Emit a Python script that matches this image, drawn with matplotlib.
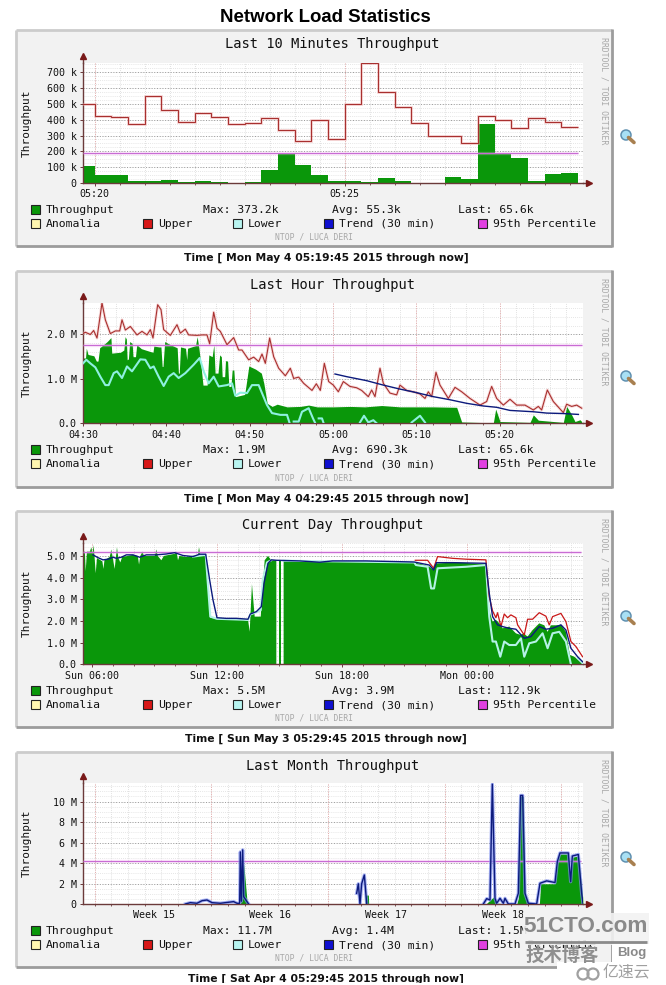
#!/usr/bin/env python
# plot.py - ntop "Network Load Statistics" page with four rrdtool graphs

import numpy as np
import matplotlib
matplotlib.use('Agg')
import matplotlib.pyplot as plt
from matplotlib.patches import Rectangle, Circle

nan = float('nan')

#------------------------------------------------------------------------------
# data: last 10 minutes (20 s steps, values in k)
#------------------------------------------------------------------------------
ten_upper = [500, 425, 420, 375, 550, 460, 385, 445, 420, 370, 380, 412, 335, 265, 395,
             280, 500, 760, 575, 480, 380, 300, 295, 255, 425, 395, 345, 410, 385, 355]
ten_green = [105, 50, 50, 15, 15, 20, 8, 12, 8, 2, 6, 85, 185, 115, 50,
             15, 12, 5, 30, 10, 3, 3, 35, 25, 373, 185, 155, 12, 55, 65]
ten_pct = 187

#------------------------------------------------------------------------------
# data: last hour (minutes after 04:30, values in M)
#------------------------------------------------------------------------------
hour_upper_t = [0, .28, .88, 1.28, 1.68, 2.28, 2.68, 3.28, 3.88, 4.4, 4.68, 5.08, 5.68, 6.48, 7.08,
                7.68, 8.08, 8.4, 8.96, 9.36, 9.68, 10.48, 11.28, 11.68, 12.28, 12.68, 13.68, 14.28,
                14.88, 15.2, 15.68, 16.08, 16.48, 17.28, 18.08, 18.68, 19.08, 19.88, 20.48, 21.08,
                21.48, 21.88, 22.4, 22.88, 23.48, 24.28, 24.88, 25.28, 25.88, 26.48, 27.48, 28,
                28.48, 28.96, 29.48, 30.04, 30.64, 31.24, 32.04, 32.84, 33.44, 34.24, 34.64, 35.04,
                35.64, 36.04, 36.84, 37.64, 38.04, 38.84, 39.64, 40.44, 41.04, 41.44, 41.84, 42.36,
                42.84, 43.84, 44.64, 45.44, 46.44, 47.64, 48.44, 49.04, 49.64, 50.44, 51.24, 52.04,
                53.04, 54.04, 54.64, 55.04, 55.72, 56.44, 57.64, 58.04, 58.64, 59.24, 59.84]
hour_upper_v = [2.02, 2.05, 2.0, 2.09, 1.92, 2.71, 2.33, 2.02, 2.08, 2.08, 2.33, 2.1, 2.18, 1.99, 2.07,
                1.99, 2.11, 1.92, 2.67, 2.56, 2.11, 1.98, 2.22, 2.03, 2.12, 1.99, 1.98, 1.99,
                1.99, 1.79, 2.5, 2.14, 2.07, 1.77, 1.93, 1.65, 1.65, 1.43, 1.49, 1.39,
                1.56, 1.35, 1.92, 1.5, 1.24, 1.07, 1.24, 1.01, 1.04, .9, .74, .89,
                .74, 1.35, .94, .86, .71, .94, .83, .8, .74, .6, .75, .6,
                1.24, .9, .68, .64, .86, .74, .71, .66, .56, .71, .6, 1.15,
                .86, .56, .81, .71, .56, .41, .49, .83, .56, .41, .54, .41,
                .41, .3, .38, .3, .75, .49, .24, .43, .38, .41, .34]
hour_green_t = [0, .3, .4, .6, 1.3, 1.6, 1.8, 2.0, 2.9, 3.35, 3.45, 4.5, 4.9, 5.05, 5.2, 5.3, 5.45, 5.6,
                5.9, 6.0, 6.3, 6.45, 7, 8, 8.4, 8.5, 9.1, 9.35, 9.5, 9.6, 9.8, 10.5, 11.3, 11.45,
                11.55, 11.7, 12.3, 12.45, 12.55, 13.5, 13.7, 13.9, 14.1, 14.4, 14.9, 15.1, 15.5,
                15.7, 15.85, 16.2, 16.4, 16.6, 16.7, 17, 17.1, 17.35, 17.5, 17.75, 17.9, 18.1, 18.3,
                19.4, 19.6, 19.9, 20.7, 21.4, 21.7, 22.1, 22.7, 23.3, 24.48, 26.08, 27.08,
                28.08, 30.04, 32.04, 33.84, 35.84, 38.04, 42.04, 44.84, 45.44, 49.24, 49.52, 50.04,
                53.64, 54.04, 54.64, 57.64, 58.04, 58.64, 59.04, 59.64, 59.84]
hour_green_v = [1.47, 1.47, 1.69, 1.55, 1.52, 1.4, 1.4, 1.7, 1.84, 1.93, 1.58, 1.6, 1.65, 1.95, 1.9, 1.43, 1.45, 1.84,
                1.8, 1.5, 1.5, 1.77, 1.68, 1.62, 1.6, 1.74, 1.72, 1.72, 1.28, 1.28, 1.84, 1.77, 1.7, 1.13,
                1.13, 1.72, 1.69, 1.43, 1.69, 1.75, 1.95, 1.7, 1.39, .86, .86, 1.54, 1.5,
                1.77, 1.13, 1.13, 1.54, 1.5, 1.05, 1.05, 1.41, 1.4, .83, .83, 1.2, 1.2, .6,
                .65, .9, 1.29, 1.22, 1.13, .9, .45, .38, .43, .37, .38, .41,
                .37, .37, .38, .37, .4, .37, .37, .36, .03, .01, .32, .04,
                .02, .19, .07, .02, .38, .19, .04, .08, .04]
hour_lower_t = [0, .4, .88, 1.48, 2.08, 2.68, 3.08, 3.68, 4.08, 4.68, 5.28, 5.88, 6.88, 7.48, 8.08, 8.48,
                9.08, 9.68, 10.28, 10.88, 11.48, 12.28, 13.28, 14, 14.48, 15.08, 15.68, 16.28, 17.28,
                17.88, 18.28, 18.88, 19.68, 20.28, 21.08, 21.48, 22.08, 22.68, 23.68, 24.48, 24.8, 24.9,
                25.28, 25.88, 26.28, 27.08, 27.6, 27.88, 28, 28.28, 28.68, 28.88, 29,
                33.24, 33.72, 34.24, 34.84, 35.24, 35.4, 39.44, 40.44, 41.04]
hour_lower_v = [1.35, 1.43, 1.35, 1.26, 1.05, .86, .86, 1.13, 1.17, 1.02, 1.28, 1.17, 1.44, 1.43, 1.24, 1.28,
                1.05, .84, 1.05, 1.13, 1.02, 1.13, 1.32, 1.47, 1.17, .9, 1.05, .83, .86,
                .9, .62, .69, .68, .86, .86, .68, .41, .23, .19, .19, 0, nan,
                .04, .04, .26, .34, .11, 0, nan, .11, .11, 0, nan,
                .02, .17, .02, .07, 0, nan, .02, .17, .02]
hour_trend_t = [30.24, 31.64, 34.04, 36.04, 38.04, 40.04, 42.04, 44.04, 46.04, 48.04, 49.64,
                51.24, 54.04, 55.64, 57.64, 59.44]
hour_trend_v = [1.11, 1.05, .96, .86, .77, .69, .6, .53, .45, .39, .36, .29, .26, .23, .22, .2]
hour_pct = 1.76

#------------------------------------------------------------------------------
# data: current day (hours after Sunday 00:00, values in M)
#------------------------------------------------------------------------------
day_green_t = [5.6, 5.66, 5.7, 5.76, 5.9, 5.97, 6.03, 6.08, 6.13, 6.18, 6.24, 6.5, 6.55, 6.6, 6.85, 6.93, 7.0,
               7.09, 7.15, 7.2, 7.27, 7.36, 7.45, 7.97, 8.2, 8.26, 8.32, 8.42, 8.5, 8.77, 9.02, 9.09, 9.16,
               9.33, 9.45, 9.97, 10.06, 10.13, 10.2, 10.53, 10.77, 11.08, 11.14, 11.2,
               11.46, 11.52, 11.68, 11.98, 13.0, 13.5, 13.57, 13.68, 13.81, 14.1, 14.29, 14.45,
               14.61, 14.85, 14.86, 14.96, 15.09, 15.1, 15.2, 16, 18, 20, 21.47, 21.9, 22.19, 22.35,
               22.48, 23.5, 24.91, 25.07, 25.23, 25.39, 25.55, 25.71, 26.03, 26.35, 26.59, 26.71,
               26.91, 27.15, 27.47, 27.71, 27.87, 28.03, 28.27, 28.51, 28.75, 28.94, 29.15, 29.47, 29.63]
day_green_v = [5.2, 5.2, 4.3, 5.2, 5.2, 5.4, 5.1, 5.5, 4.9, 4.2, 4.9, 4.75, 4.4, 4.8, 4.95, 5.3, 4.9,
               4.4, 4.95, 5.4, 4.9, 4.7, 4.95, 5.05, 5.0, 4.6, 5.0, 5.2, 5.0, 5.0, 5.0, 5.3, 5.0,
               4.8, 5.0, 5.1, 5.2, 4.8, 5.0, 4.95, 5.0, 5.05, 5.4, 5.05,
               5.05, 4.2, 2.15, 2.1, 2.1, 2.0, 1.5, 3.7, 2.2, 2.2, 4.8, 5.0,
               4.8, 4.8, nan, 4.8, 4.8, nan, 4.8, 4.75, 4.72, 4.72, 4.7, 4.6, 4.5, 4.38,
               4.65, 4.7, 4.62, 2.5, 1.97, 2.05, 1.9, 1.66, 1.74, 1.43, 1.35, 1.43,
               1.28, 1.58, 1.89, 1.8, 1.5, 1.8, 1.8, 1.82, 1.5, .43, .35, .12, 0]
day_trend_t = [6.05, 6.29, 6.53, 6.77, 7.01, 7.17, 7.41, 7.65, 7.97, 8.29, 8.61, 9.09, 9.57, 9.97, 10.37,
               10.85, 11.17, 11.46, 11.65, 11.81, 12.0, 12.45, 12.93, 13.49, 13.6, 13.89, 14.13, 14.26,
               14.45, 14.61, 14.85, 15.97, 16.93, 17.55, 19.15, 21.47, 22.19, 22.4, 22.54, 23.31,
               24.91, 25.07, 25.23, 25.47, 25.71, 26.03, 26.35, 26.75, 27.07, 27.47, 27.79, 28.11,
               28.51, 28.75, 28.99, 29.31, 29.55]
day_trend_v = [5.05, 4.92, 4.82, 4.85, 4.94, 4.89, 4.94, 5.05, 5.05, 4.94, 5.05, 5.05, 5.09, 5.15, 5.02,
               4.97, 5.08, 5.08, 3.89, 2.97, 2.15, 2.12, 2.12, 2.08, 2.32, 2.43, 2.66, 3.74,
               4.66, 4.82, 4.8, 4.77, 4.71, 4.77, 4.77, 4.72, 4.58, 4.35, 4.69, 4.69,
               4.66, 3.28, 2.2, 1.82, 1.74, 1.66, 1.62, 1.2, 1.28, 1.74, 1.62, 1.66,
               1.82, 1.58, .74, .35, .12]
day_lower_t = [10.85, 11.46, 11.68, 12.0, 13.49, 13.6, 13.89, 14.1, 14.2, 14.4, 14.61, 14.86, 15.2,
               21.47, 21.55, 22.11, 22.28, 22.42, 22.59, 23.95, 24.91, 25.07, 25.23, 25.39, 25.6, 25.79, 26.03,
               26.35, 26.59, 26.75, 26.99, 27.31, 27.63, 27.87, 28.11, 28.43, 28.75, 28.99, 29.1,
               29.31, 29.55]
day_lower_v = [4.97, 5.05, 2.2, 2.1, 2.05, 2.3, 2.4, 2.5, 3.9, 4.7, 4.8, nan, 4.78,
               4.7, 4.58, 4.5, 3.5, 3.5, 4.43, 4.5, 4.58, 2.2, 1.05, 1.05, .35, 1.05, .89,
               .89, 1.2, .35, .97, 1.05, 1.43, .74, 1.43, 1.5, 1.05, 0, nan,
               .28, .05]
day_upper_t = [21.52, 22.11, 22.4, 22.59, 23.31, 23.95, 24.91, 25.07, 25.23, 25.39, 25.47, 25.63, 25.79,
               25.95, 26.11, 26.35, 26.43, 26.75, 26.91, 27.15, 27.47, 27.79, 27.95, 28.11, 28.51,
               28.75, 28.99, 29.23, 29.55]
day_upper_v = [4.8, 4.8, 4.43, 4.97, 4.89, 4.85, 4.82, 3.12, 2.46, 2.15, 2.38, 1.74, 2.32,
               2.15, 2.28, 2.15, 1.82, 1.35, 2.08, 2.08, 2.38, 2.22, 1.82, 2.2, 2.35,
               1.97, 1.05, .82, .35]
day_pct = 5.2

#------------------------------------------------------------------------------
# data: last month (days after Apr 4, values in M)
#------------------------------------------------------------------------------
month_trend_t = [6.14, 6.44, 6.84, 7.14, 7.44, 7.74, 8.24, 9.04, 9.24, 9.4, 9.44, 9.5, 9.58, 9.64, 9.84, 9.94, 10,
                 16.42, 16.52, 16.62, 16.72, 16.88, 17.02, 17.1,
                 24.02, 24.22, 24.42, 24.56, 24.72, 24.82, 25.02, 25.22, 25.32, 25.52, 25.92, 26.12,
                 26.26, 26.38, 26.52, 26.72, 27.22, 27.42, 27.82, 28.32, 28.46, 28.62, 29.12, 29.26,
                 29.36, 29.72, 29.92, 30.0]
month_trend_v = [.03, .16, .1, .35, .42, .16, .1, .26, .1, .1, 5.1, .3, 5.3, .75, .26, .03, nan,
                 1.07, 2.0, .03, 2.0, 2.85, .1, nan,
                 .03, .55, .42, 11.7, .58, .1, .58, .1, .58, .03, .03, 1.07,
                 10.6, 10.6, 1.07, .1, .03, 2.05, 2.28, 2.12, 4.15, 5.0, 5.0, 2.2,
                 4.7, 4.85, 1.07, .1]
month_green_t = [9.44, 9.64, 9.84, 9.9, 16.92, 16.94, 17.12, 17.14, 24.2, 24.22, 24.42, 24.62, 24.82, 25.02, 25.1,
                 26.02, 26.12, 26.18, 26.42, 26.52, 26.72, 27.38, 27.46, 28.32, 28.46, 28.62, 29.12,
                 29.22, 29.38, 29.72, 29.98, 30.0]
month_green_v = [0, 4.0, .3, 0, 0, .9, .9, 0, 0, .1, .4, .7, .1, .1, 0,
                 0, .6, 10.5, 10.5, .9, 0, 0, 2.0, 2.0, 4.1, 4.9, 4.9,
                 2.2, 4.6, 4.7, .7, 0]
month_pct = 4.25

#------------------------------------------------------------------------------
# data: texts
#------------------------------------------------------------------------------
titles = ['Last 10 Minutes Throughput', 'Last Hour Throughput',
          'Current Day Throughput', 'Last Month Throughput']
captions = ['Time [ Mon May 4 05:19:45 2015 through now]',
            'Time [ Mon May 4 04:29:45 2015 through now]',
            'Time [ Sun May 3 05:29:45 2015 through now]',
            'Time [ Sat Apr 4 05:29:45 2015 through now]']
stat_max = ['373.2k', '1.9M', '5.5M', '11.7M']
stat_avg = ['55.3k', '690.3k', '3.9M', '1.4M']
stat_last = ['65.6k', '65.6k', '112.9k', '1.5M']

#------------------------------------------------------------------------------
# style
#------------------------------------------------------------------------------
MONO = 'DejaVu Sans Mono'
GREEN = '#0a970a'
RED = '#a8302f'
CYAN = '#8ff0e0'
BLUE = '#0c1a7c'
PCT = '#c86cd4'
AXIS = '#6b3a3a'

W, H = 666, 985
fig = plt.figure(figsize=(W / 100, H / 100), dpi=100, facecolor='white')

# page axes in pixel coordinates, for everything around the graphs
page = fig.add_axes([0, 0, 1, 1], zorder=0)
page.set_xlim(0, W)
page.set_ylim(H, 0)
page.axis('off')

page.text(325.5, 17, 'Network Load Statistics', ha='center', va='center',
          family='Liberation Sans', weight='bold', fontsize=13.4, color='black')

box_top = [30, 271, 511, 752]
box_bottom = [246, 487, 727, 967]
plot_top = [63, 302.5, 542.5, 782.5]
plot_bottom = [183, 423.3, 664.3, 904.3]


def chrome(i):
    """grey frame, legend and side texts of graph i"""
    top, bot = box_top[i], box_bottom[i]
    page.add_patch(Rectangle((16, top), 596, bot - top, fc='#f2f2f2', ec='none'))
    page.plot([16, 612], [top, top], color='#cccccc', lw=2, solid_capstyle='butt')
    page.plot([16, 16], [top, bot], color='#cccccc', lw=2, solid_capstyle='butt')
    page.plot([16, 612], [bot, bot], color='#9c9c9c', lw=2, solid_capstyle='butt')
    page.plot([612, 612], [top - 1, bot + 1], color='#9c9c9c', lw=2, solid_capstyle='butt')

    page.text(332.5, top + 14, titles[i], family=MONO, fontsize=9.9,
              ha='center', va='center', color='#111111')
    page.text(27, (plot_top[i] + plot_bottom[i]) / 2, 'Throughput', family=MONO, fontsize=8,
              rotation=90, ha='center', va='center', color='#111111')
    page.text(604, top + 61, 'RRDTOOL / TOBI OETIKER', family=MONO, fontsize=5.9,
              rotation=270, ha='center', va='center', color='#a8a8a8')
    page.text(314, bot - 9, 'NTOP / LUCA DERI', family=MONO, fontsize=5.9,
              ha='center', va='center', color='#a8a8a8')

    y1 = plot_bottom[i] + 26
    y2 = y1 + 14
    rows = [(31, y1, GREEN, 'Throughput'), (31, y2, '#fff6b0', 'Anomalia'),
            (143, y2, '#d81818', 'Upper'), (233, y2, '#b8f4f0', 'Lower'),
            (324, y2, '#1010d0', 'Trend (30 min)'), (478, y2, '#e040e0', '95th Percentile')]
    for x, y, c, lab in rows:
        page.add_patch(Rectangle((x, y - 4.5), 9, 9, fc=c, ec='#222222', lw=0.8))
        page.text(x + 15, y + 4, lab, family=MONO, fontsize=8.2, va='baseline', color='#111111')
    page.text(203, y1 + 4, 'Max: ' + stat_max[i], family=MONO, fontsize=8.2, va='baseline', color='#111111')
    page.text(332, y1 + 4, 'Avg: ' + stat_avg[i], family=MONO, fontsize=8.2, va='baseline', color='#111111')
    page.text(458, y1 + 4, 'Last: ' + stat_last[i], family=MONO, fontsize=8.2, va='baseline', color='#111111')

    page.text(326, bot + 12, captions[i], family='DejaVu Sans', weight='bold', fontsize=7.75,
              ha='center', va='center', color='#111111')

    # magnifier icon
    my = top + 106
    page.plot([628.5, 634], [my + 1.5, my + 6.5], color='#a88050', lw=2.6, solid_capstyle='round')
    page.add_patch(Circle((626, my - 1), 5, fc='#a8e0f4', ec='#5f90b0', lw=1.1))


def graph(i, xlim, ylim, vminor, vmajor, hminor, hmajor):
    """white plotting area of graph i with the rrdtool dotted grid"""
    top, bot = plot_top[i], plot_bottom[i]
    ax = fig.add_axes([83 / W, 1 - bot / H, 500 / W, (bot - top) / H], zorder=1)
    ax.set_xlim(*xlim)
    ax.set_ylim(*ylim)
    for s in ['top', 'right']:
        ax.spines[s].set_visible(False)
    for s in ['left', 'bottom']:
        ax.spines[s].set_color(AXIS)
        ax.spines[s].set_linewidth(1)
    for v in vminor:
        ax.axvline(v, color='#d6d6d6', lw=0.6, ls=(0, (1, 1.5)), zorder=0.5)
    for h in hminor:
        ax.axhline(h, color='#dedede', lw=0.6, ls=(0, (1, 1.5)), zorder=0.5)
    for h in hmajor:
        ax.axhline(h, color='#9a9a9a', lw=0.7, ls=(0, (1, 1.8)), zorder=0.6)
    for v in vmajor:
        ax.axvline(v, color='#e6a8a8', lw=0.7, ls=(0, (1, 1.5)), zorder=0.6)
    ax.set_xticks(vminor, minor=True)
    ax.tick_params(axis='x', which='minor', length=1.5, width=0.6, color=AXIS)
    ax.tick_params(axis='both', which='major', length=2.5, width=0.7, color=AXIS, pad=2,
                   labelsize=7.2, labelcolor='#111111')
    # axis arrows
    ax.plot([0, 0], [1, 1.055], transform=ax.transAxes, color=AXIS, lw=1, clip_on=False)
    ax.plot([0], [1.055], transform=ax.transAxes, marker='^', ms=4, color='#7a1a1a', clip_on=False)
    ax.plot([1, 1.012], [0, 0], transform=ax.transAxes, color=AXIS, lw=1, clip_on=False)
    ax.plot([1.012], [0], transform=ax.transAxes, marker='>', ms=4, color='#7a1a1a', clip_on=False)
    return ax


def lines(ax, t, v, color, lw, halo=None):
    if halo:
        ax.plot(t, v, color=halo, lw=lw + 1.3, alpha=0.45, zorder=3)
    ax.plot(t, v, color=color, lw=lw, zorder=3.2)


def pct(ax, xmin, xmax, value):
    ax.hlines(value, xmin, xmax, color='#f0a8f0', lw=2.4, alpha=0.3, zorder=2.8)
    ax.hlines(value, xmin, xmax, color=PCT, lw=0.8, zorder=2.9)


def set_labels(ax, xt, xl, yt, yl):
    ax.set_xticks(xt, xl, family=MONO)
    ax.set_yticks(yt, yl, family=MONO)


for i in range(4):
    chrome(i)

#------------------------------------------------------------------------------
# last 10 minutes
#------------------------------------------------------------------------------
ax = graph(0, (-0.23, 9.77), (0, 758),
           np.arange(-0.0, 10, 0.5), [0, 5], np.arange(0, 758, 25), np.arange(100, 758, 100))
edges = (np.arange(len(ten_upper) + 1) - 1) / 3
ax.stairs(ten_green, edges, fill=True, color=GREEN, zorder=2)
ax.stairs(ten_upper, edges, baseline=None, color='#f0b0b0', lw=2.0, alpha=0.5, zorder=3)
ax.stairs(ten_upper, edges, baseline=None, color=RED, lw=0.8, zorder=3.2)
pct(ax, -0.23, edges[-1], ten_pct)
set_labels(ax, [0, 5], ['05:20', '05:25'],
           [0, 100, 200, 300, 400, 500, 600, 700],
           ['0', '100 k', '200 k', '300 k', '400 k', '500 k', '600 k', '700 k'])

#------------------------------------------------------------------------------
# last hour
#------------------------------------------------------------------------------
ax = graph(1, (0, 60), (0, 2.72),
           np.arange(0, 60, 2), [0, 10, 20, 30, 40, 50], np.arange(0, 2.72, 0.2), [1, 2])
ax.fill_between(hour_green_t, hour_green_v, 0, color=GREEN, lw=0, zorder=2)
lines(ax, hour_lower_t, hour_lower_v, CYAN, 1.5)
lines(ax, hour_upper_t, hour_upper_v, RED, 0.8, halo='#f0b0b0')
lines(ax, hour_trend_t, hour_trend_v, BLUE, 1.0)
pct(ax, 0, 59.84, hour_pct)
set_labels(ax, [0, 10, 20, 30, 40, 50], ['04:30', '04:40', '04:50', '05:00', '05:10', '05:20'],
           [0, 1, 2], ['0.0', '1.0 M', '2.0 M'])

#------------------------------------------------------------------------------
# current day
#------------------------------------------------------------------------------
ax = graph(2, (5.57, 29.57), (0, 5.62),
           np.arange(6, 30, 1), [6, 12, 18, 24], np.arange(0, 5.62, 0.2), [1, 2, 3, 4, 5])
ax.fill_between(day_green_t, day_green_v, 0, color=GREEN, lw=0, zorder=2)
lines(ax, day_lower_t, day_lower_v, '#b4f2e6', 1.5)
lines(ax, day_upper_t, day_upper_v, '#c81818', 0.9)
lines(ax, day_trend_t, day_trend_v, BLUE, 1.0)
pct(ax, 5.57, 29.45, day_pct)
set_labels(ax, [6, 12, 18, 24], ['Sun 06:00', 'Sun 12:00', 'Sun 18:00', 'Mon 00:00'],
           [0, 1, 2, 3, 4, 5], ['0.0', '1.0 M', '2.0 M', '3.0 M', '4.0 M', '5.0 M'])

#------------------------------------------------------------------------------
# last month
#------------------------------------------------------------------------------
week_lines = [0.7, 7.7, 14.7, 21.7, 28.7]
ax = graph(3, (0, 30), (0, 11.86),
           np.arange(0.7, 30, 1), week_lines, np.arange(0, 11.86, 0.5), [2, 4, 6, 8, 10])
ax.fill_between(month_green_t, month_green_v, 0, color=GREEN, lw=0, zorder=2)
ax.plot(month_trend_t, month_trend_v, color='#7f8ff0', lw=2.4, alpha=0.7, zorder=3)
lines(ax, month_trend_t, month_trend_v, BLUE, 1.0)
pct(ax, 0, 29.88, month_pct)
set_labels(ax, [4.25, 11.2, 18.2, 25.2], ['Week 15', 'Week 16', 'Week 17', 'Week 18'],
           [0, 2, 4, 6, 8, 10], ['0', '2 M', '4 M', '6 M', '8 M', '10 M'])
ax.tick_params(axis='x', which='major', length=0, pad=4)

#------------------------------------------------------------------------------
# watermarks on top of everything
#------------------------------------------------------------------------------
mark = fig.add_axes([0, 0, 1, 1], zorder=2)
mark.set_xlim(0, W)
mark.set_ylim(H, 0)
mark.axis('off')
mark.add_patch(Rectangle((0, 983), W, 2, fc='white', ec='none'))
mark.add_patch(Rectangle((523, 913), 126, 32, fc='#f2f2f2', ec='none', alpha=0.9))
mark.add_patch(Rectangle((612, 944), 40, 18, fc='white', ec='none'))
mark.add_patch(Rectangle((557, 962), 109, 23, fc='white', ec='none'))
mark.text(586, 927, '51CTO.com', family='Liberation Sans', weight='bold',
          fontsize=16.2, ha='center', va='center', color='#8a8a8a')
mark.plot([525, 647], [942, 942], color='#8a8a8a', lw=2, solid_capstyle='butt')
mark.text(525, 955, '技术博客', family=['Noto Sans CJK SC', 'DejaVu Sans'], weight='bold',
          fontsize=13.2, va='center', color='#8f8f8f')
mark.text(617, 953, 'Blog', family='Liberation Sans', weight='bold',
          fontsize=9.5, va='center', color='#8a8a8a')
mark.text(603, 973, '亿速云', family=['Noto Sans CJK SC', 'DejaVu Sans'],
          fontsize=11.4, va='center', color='#a0a0a0')
for cx in [583, 593]:
    mark.add_patch(Circle((cx, 974), 5.5, fc='none', ec='#a0a0a0', lw=1.6))

fig.savefig('out.png', dpi=100, facecolor='white')
